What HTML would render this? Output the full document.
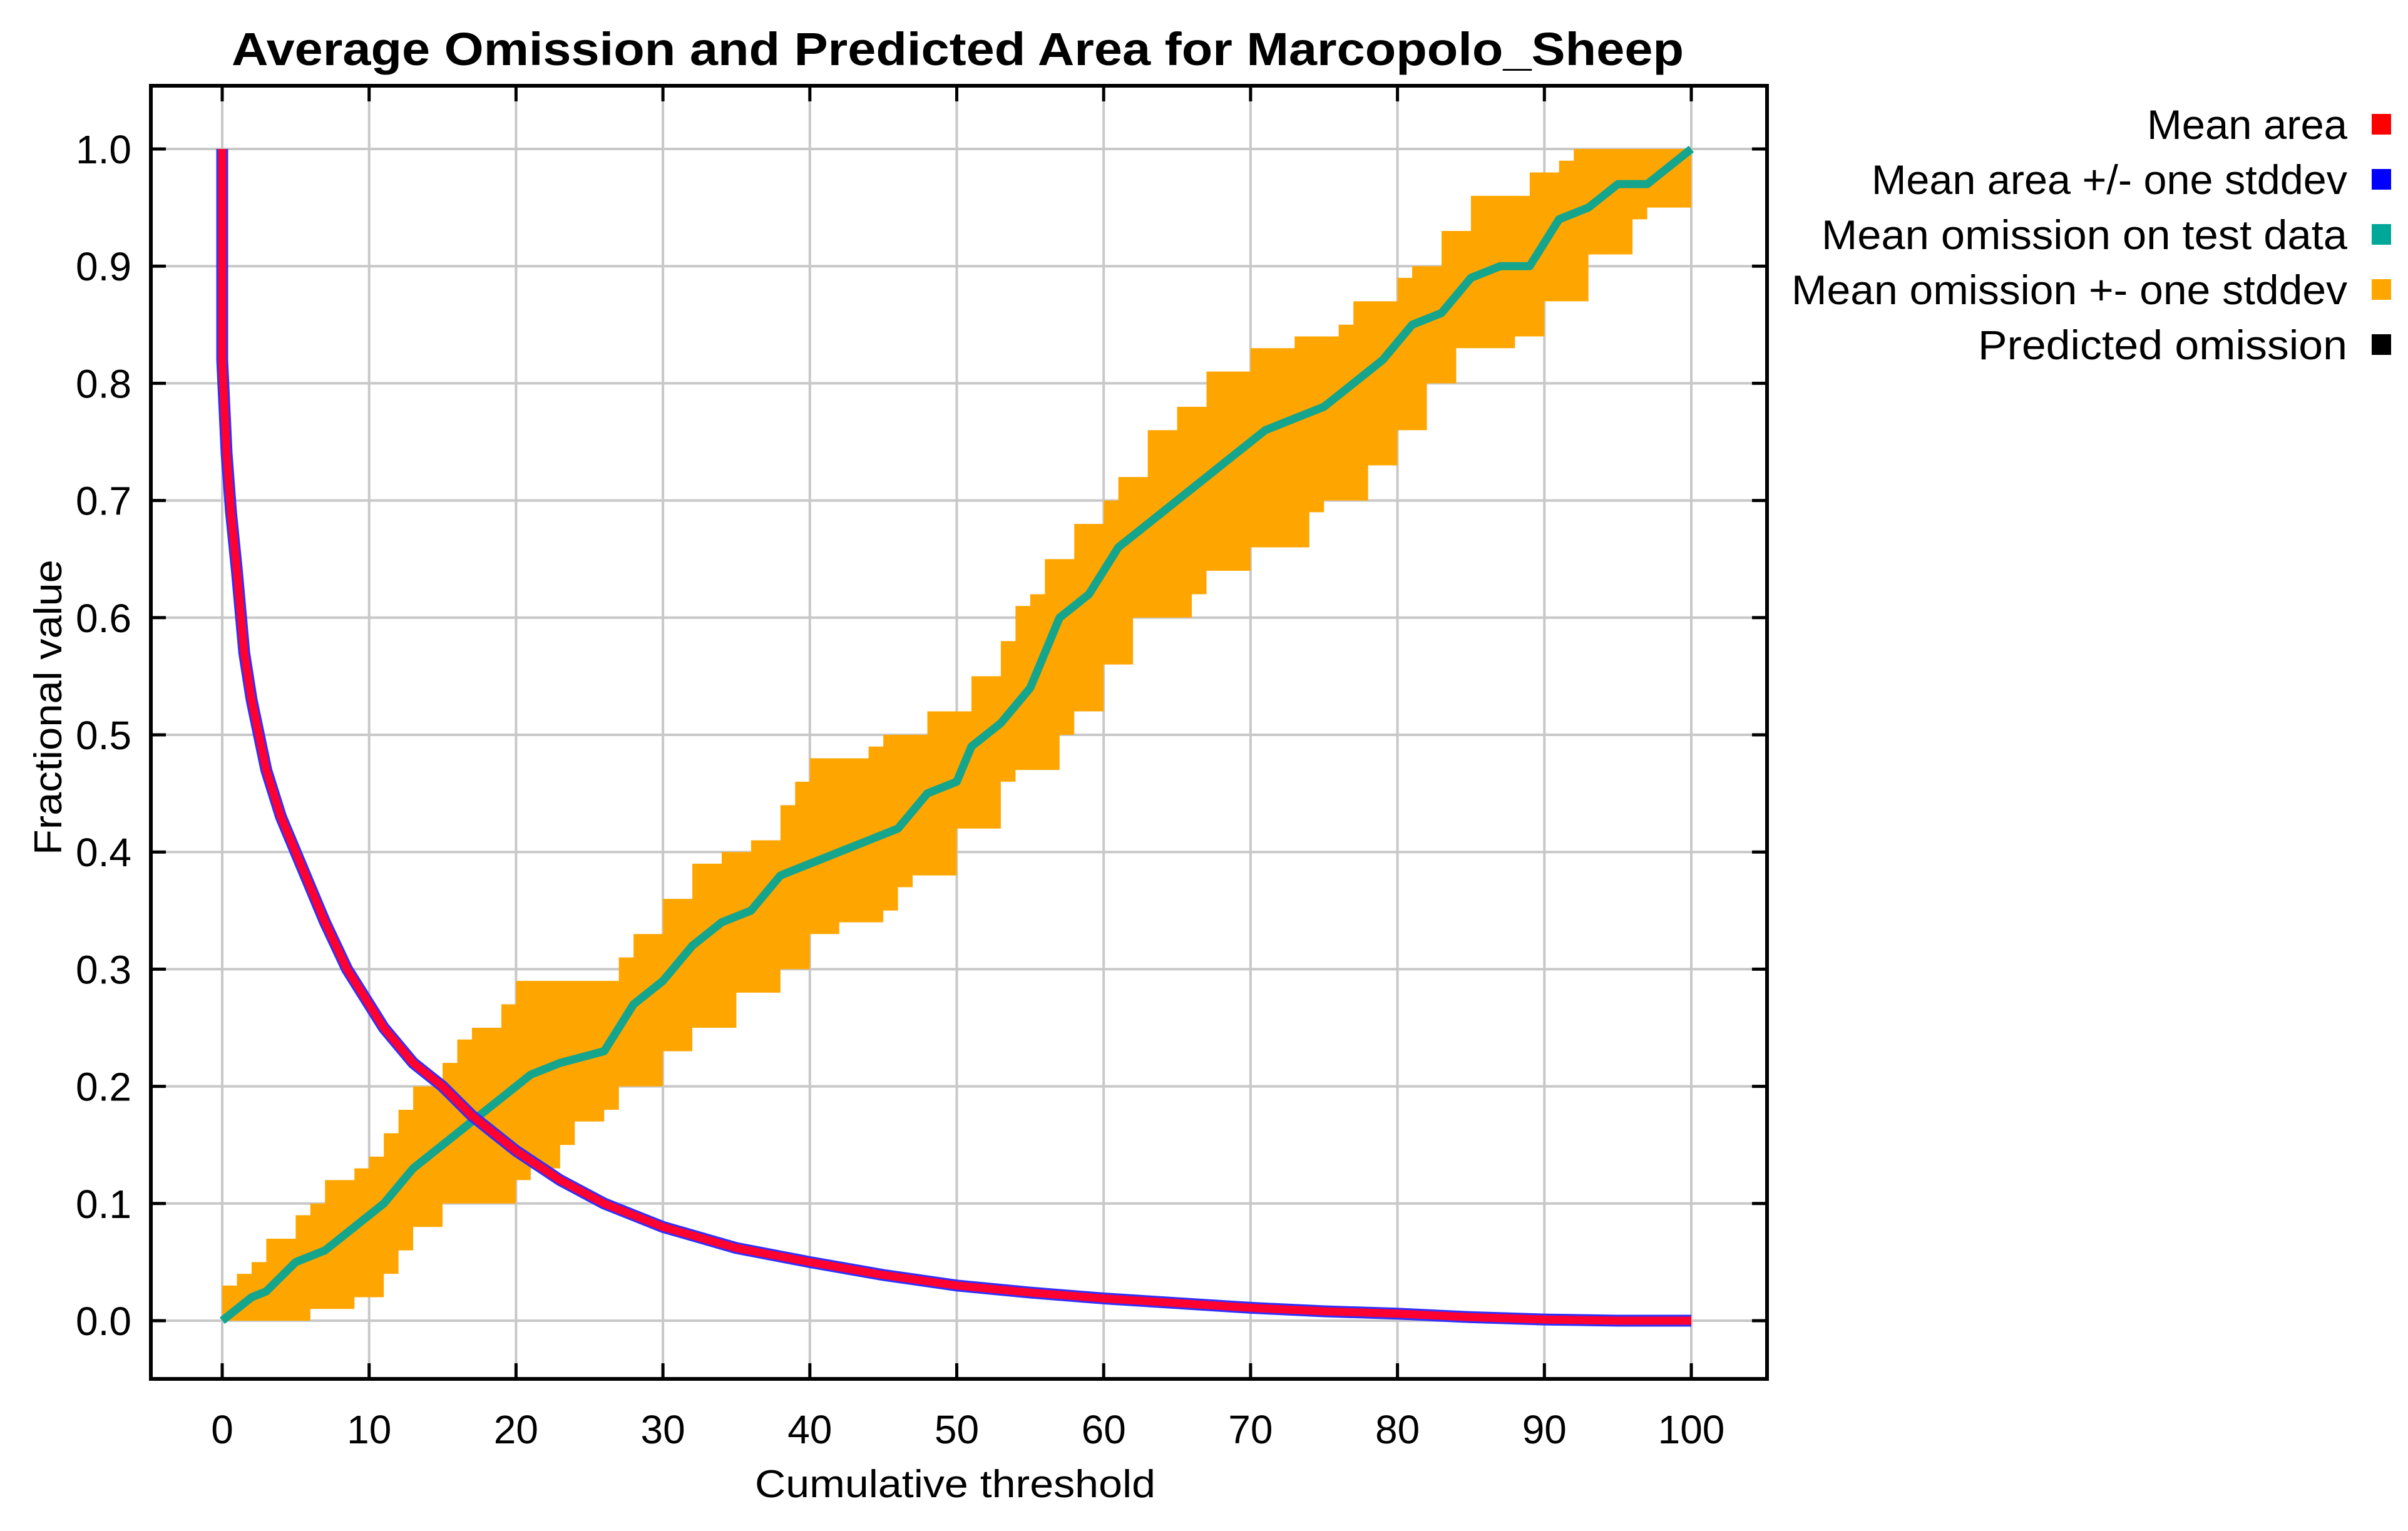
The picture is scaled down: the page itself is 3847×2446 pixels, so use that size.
<!DOCTYPE html>
<html><head><meta charset="utf-8"><style>
html,body{margin:0;padding:0;background:#fff;}
svg{display:block;}
text{font-family:"Liberation Sans",sans-serif;fill:#000;}
</style></head><body>
<svg id="chart" width="3847" height="2446" viewBox="0 0 3847 2446" xmlns="http://www.w3.org/2000/svg">
<rect width="3847" height="2446" fill="#fff"/>
<text x="1530" y="104" font-size="74" font-weight="bold" text-anchor="middle" textLength="2320" lengthAdjust="spacingAndGlyphs">Average Omission and Predicted Area for Marcopolo_Sheep</text>
<g id="grid"></g>
<g id="band"></g>
<g id="series"></g>
<rect x="241" y="137" width="2582" height="2066" fill="none" stroke="#000" stroke-width="6"/>
<g id="ticks"></g>
<text x="1526" y="2392" font-size="62" text-anchor="middle" textLength="640" lengthAdjust="spacingAndGlyphs">Cumulative threshold</text>
<text transform="translate(98,1130) rotate(-90)" font-size="62" text-anchor="middle" textLength="472" lengthAdjust="spacingAndGlyphs">Fractional value</text>
<g id="legend"></g>
</svg>
<script>
const xTicks=[0,10,20,30,40,50,60,70,80,90,100];
const yTicks=[0,0.1,0.2,0.3,0.4,0.5,0.6,0.7,0.8,0.9,1.0];
const areaX=[0,0,0.3,0.6,1,1.5,2,2.5,3,4,5,6,7,8.5,10,11,13,15,17,20,23,26,30,35,40,45,50,55,60,65,70,75,80,85,90,95,100];
const areaY=[1.0,0.82,0.74,0.69,0.64,0.57,0.53,0.5,0.47,0.43,0.4,0.37,0.34,0.3,0.27,0.25,0.22,0.2,0.175,0.145,0.12,0.1,0.08,0.062,0.05,0.039,0.03,0.024,0.019,0.015,0.011,0.008,0.006,0.003,0.001,0.0,0.0];
const omX=[0,1,2,3,5,7,9,11,13,15,17,19,21,23,26,28,30,32,34,36,38,40,42,44,46,48,50,51,53,55,57,59,61,63,65,67,69,71,73,75,77,79,81,83,85,87,89,91,93,95,97,99,100];
const omY=[0,0.01,0.02,0.025,0.05,0.06,0.08,0.1,0.13,0.15,0.17,0.19,0.21,0.22,0.23,0.27,0.29,0.32,0.34,0.35,0.38,0.39,0.4,0.41,0.42,0.45,0.46,0.49,0.51,0.54,0.6,0.62,0.66,0.68,0.7,0.72,0.74,0.76,0.77,0.78,0.8,0.82,0.85,0.86,0.89,0.9,0.9,0.94,0.95,0.97,0.97,0.99,1.0];
const upX=[0,1,2,3,5,6,7,9,10,11,12,13,15,16,17,19,20,26,27,28,30,32,34,36,38,39,40,44,45,48,50,51,53,54,55,56,58,60,61,63,65,67,70,73,76,77,80,81,83,85,87,89,91,92,100];
const upY=[0.03,0.04,0.05,0.07,0.09,0.10,0.12,0.13,0.14,0.16,0.18,0.20,0.22,0.24,0.25,0.27,0.29,0.29,0.31,0.33,0.36,0.39,0.40,0.41,0.44,0.46,0.48,0.49,0.50,0.52,0.52,0.55,0.58,0.61,0.62,0.65,0.68,0.70,0.72,0.76,0.78,0.81,0.83,0.84,0.85,0.87,0.89,0.90,0.93,0.96,0.96,0.98,0.99,1.0,1.0];
const loX=[0,5,6,7,9,10,11,12,13,15,19,20,21,23,24,26,27,30,32,35,38,40,42,45,46,47,50,53,54,57,58,60,62,66,67,70,74,75,78,80,82,84,88,90,93,96,97,100];
const loY=[0,0,0.01,0.01,0.02,0.02,0.04,0.06,0.08,0.10,0.10,0.12,0.13,0.15,0.17,0.18,0.20,0.23,0.25,0.28,0.30,0.33,0.34,0.35,0.37,0.38,0.42,0.46,0.47,0.50,0.52,0.56,0.60,0.62,0.64,0.66,0.69,0.70,0.73,0.76,0.80,0.83,0.84,0.87,0.91,0.94,0.95,0.96];
const legendLabels=["Mean area","Mean area +/- one stddev","Mean omission on test data","Mean omission +- one stddev","Predicted omission"];
const legendColors=["#ff0000","#0000ff","#00a89a","#ffa500","#000000"];

const NS="http://www.w3.org/2000/svg";
const X=v=>355+v*(2702-355)/100;
const Y=v=>2110-v*(2110-238);
function mk(tag,attrs,parent){const e=document.createElementNS(NS,tag);for(const k in attrs)e.setAttribute(k,attrs[k]);parent.appendChild(e);return e;}
const grid=document.getElementById('grid'),ticks=document.getElementById('ticks');
xTicks.forEach(t=>{
  const g=mk('line',{x1:X(t),x2:X(t),y1:137,y2:2203,stroke:'#c8c8c8','stroke-width':4},grid);
  
  
  const a=mk('line',{x1:X(t),x2:X(t),y1:2203,y2:2178,stroke:'#000','stroke-width':5},ticks);
  
  
  const b=mk('line',{x1:X(t),x2:X(t),y1:137,y2:162,stroke:'#000','stroke-width':5},ticks);
  
  
  const l=mk('text',{x:X(t),y:2306,'font-size':64,'text-anchor':'middle'},ticks);
  l.textContent=String(t);
  
  
});
yTicks.forEach(t=>{
  const g=mk('line',{x1:241,x2:2823,y1:Y(t),y2:Y(t),stroke:'#c8c8c8','stroke-width':4},grid);
  
  
  const a=mk('line',{x1:241,x2:265,y1:Y(t),y2:Y(t),stroke:'#000','stroke-width':5},ticks);
  
  
  const b=mk('line',{x1:2799,x2:2823,y1:Y(t),y2:Y(t),stroke:'#000','stroke-width':5},ticks);
  
  
  const l=mk('text',{x:210,y:Y(t)+23,'font-size':64,'text-anchor':'end'},ticks);
  l.textContent=t.toFixed(1);
  
  
});
// band drawn as staircase: upper steps up at x (vertical first), lower steps horizontal first
let pts=[];
upX.forEach((x,i)=>{ if(i>0) pts.push(X(x)+','+Y(upY[i-1])); pts.push(X(x)+','+Y(upY[i])); });
const lowPts=[];
loX.forEach((x,i)=>{ if(i>0) lowPts.push(X(x)+','+Y(loY[i-1])); lowPts.push(X(x)+','+Y(loY[i])); });
pts=pts.concat(lowPts.reverse());
const band=mk('polygon',{points:pts.join(' '),fill:'#ffa500'},document.getElementById('band'));


const ser=document.getElementById('series');
const om=mk('polyline',{points:omX.map((x,i)=>X(x)+','+Y(omY[i])).join(' '),fill:'none',stroke:'#14a58c','stroke-width':13,'stroke-linejoin':'round'},ser);


const ab=mk('polyline',{points:areaX.map((x,i)=>X(x)+','+Y(areaY[i])).join(' '),fill:'none',stroke:'#3030ff','stroke-width':19,'stroke-linejoin':'round'},ser);


const ar=mk('polyline',{points:areaX.map((x,i)=>X(x)+','+Y(areaY[i])).join(' '),fill:'none',stroke:'#ff0030','stroke-width':13,'stroke-linejoin':'round'},ser);


const leg=document.getElementById('legend');
const widths=[320,760,840,888,590];
legendLabels.forEach((s,i)=>{
  const cy=198+i*88;
  const t=mk('text',{x:3750,y:cy+24,'font-size':66,'text-anchor':'end',textLength:widths[i],lengthAdjust:'spacingAndGlyphs'},leg);
  t.textContent=s;
  
  
  const r=mk('rect',{x:3789,y:cy-16,width:31,height:33,fill:legendColors[i]},leg);
  
  
});
</script>
</body></html>
